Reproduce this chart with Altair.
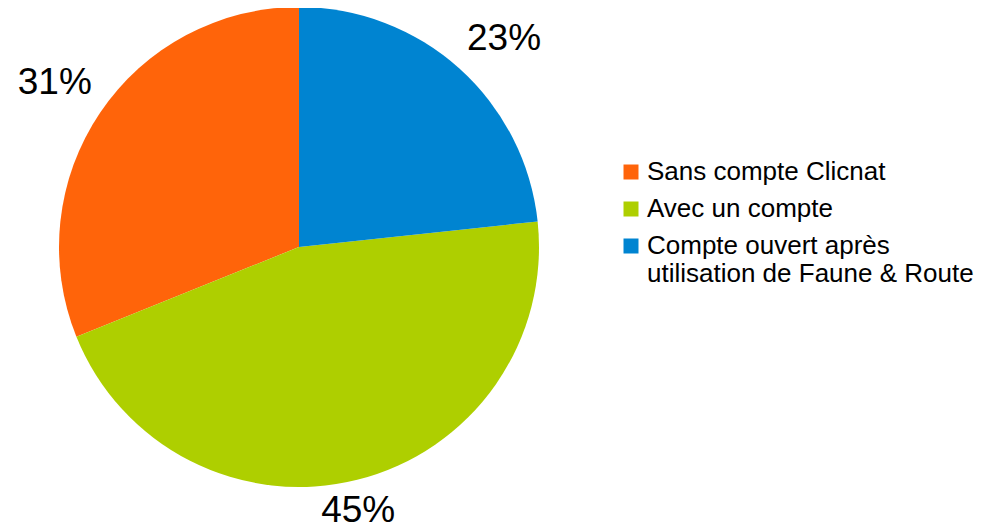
import altair as alt
import pandas as pd

categories = ["Sans compte Clicnat", "Avec un compte", "Compte ouvert après utilisation de Faune & Route"]
values = [31.1, 45.6, 23.3]
labels = ["31%", "45%", "23%"]
slice_order = [3, 2, 1]
colors = ["#ff640a", "#aecf00", "#0084d1"]

# layout (pixels)
CX, CY, R = 291, 239, 240
R0, W, H = 244, 42, 27

df = pd.DataFrame({"cat": categories, "val": values, "lab": labels, "ord": slice_order})

color = alt.Color(
    "cat:N",
    scale=alt.Scale(domain=categories, range=colors),
    sort=categories,
    legend=alt.Legend(
        title=None,
        orient="none",
        legendX=610,
        legendY=151,
        symbolType="square",
        symbolSize=225,
        symbolStrokeWidth=0,
        labelFont="Liberation Sans",
        labelFontSize=26,
        labelColor="#000000",
        labelOffset=3,
        labelLimit=400,
        rowPadding=11,
        labelExpr="indexof(datum.label,'après ') >= 0 ? split(replace(datum.label,'après ','après|'),'|') : datum.label",
    ),
)

arcs = alt.Chart(df).mark_arc(outerRadius=R, stroke=None).encode(
    theta=alt.Theta("val:Q", stack=True),
    order=alt.Order("ord:Q"),
    color=color,
    x=alt.value(CX),
    y=alt.value(CY),
)

texts = (
    alt.Chart(df)
    .transform_window(cum="sum(val)", sort=[alt.SortField("ord")])
    .transform_joinaggregate(tot="sum(val)")
    .transform_calculate(m="2*PI*(datum.cum - datum.val/2)/datum.tot")
    .transform_calculate(
        hx="sin(datum.m) > 0.38 ? 1 : (sin(datum.m) < -0.38 ? -1 : 0)",
        vy="cos(datum.m) > 0.38 ? 1 : (cos(datum.m) < -0.38 ? -1 : 0)",
    )
    .transform_calculate(
        lx=f"{CX} + {R0}*sin(datum.m) + {W}*datum.hx",
        ly=f"{CY} - ({R0}*cos(datum.m) + {H + 2 * 0}*datum.vy)",
    )
    .mark_text(font="Liberation Sans", fontSize=37, color="#000000", align="center", baseline="middle")
    .encode(
        text="lab:N",
        x=alt.X("lx:Q", scale=None),
        y=alt.Y("ly:Q", scale=None),
    )
)

chart = (
    alt.layer(arcs, texts)
    .properties(width=968, height=523, padding=0, autosize=alt.AutoSizeParams(type="none"))
    .configure_view(stroke=None)
)

chart.save("out.html", embed_options={"renderer": "svg", "actions": False})
